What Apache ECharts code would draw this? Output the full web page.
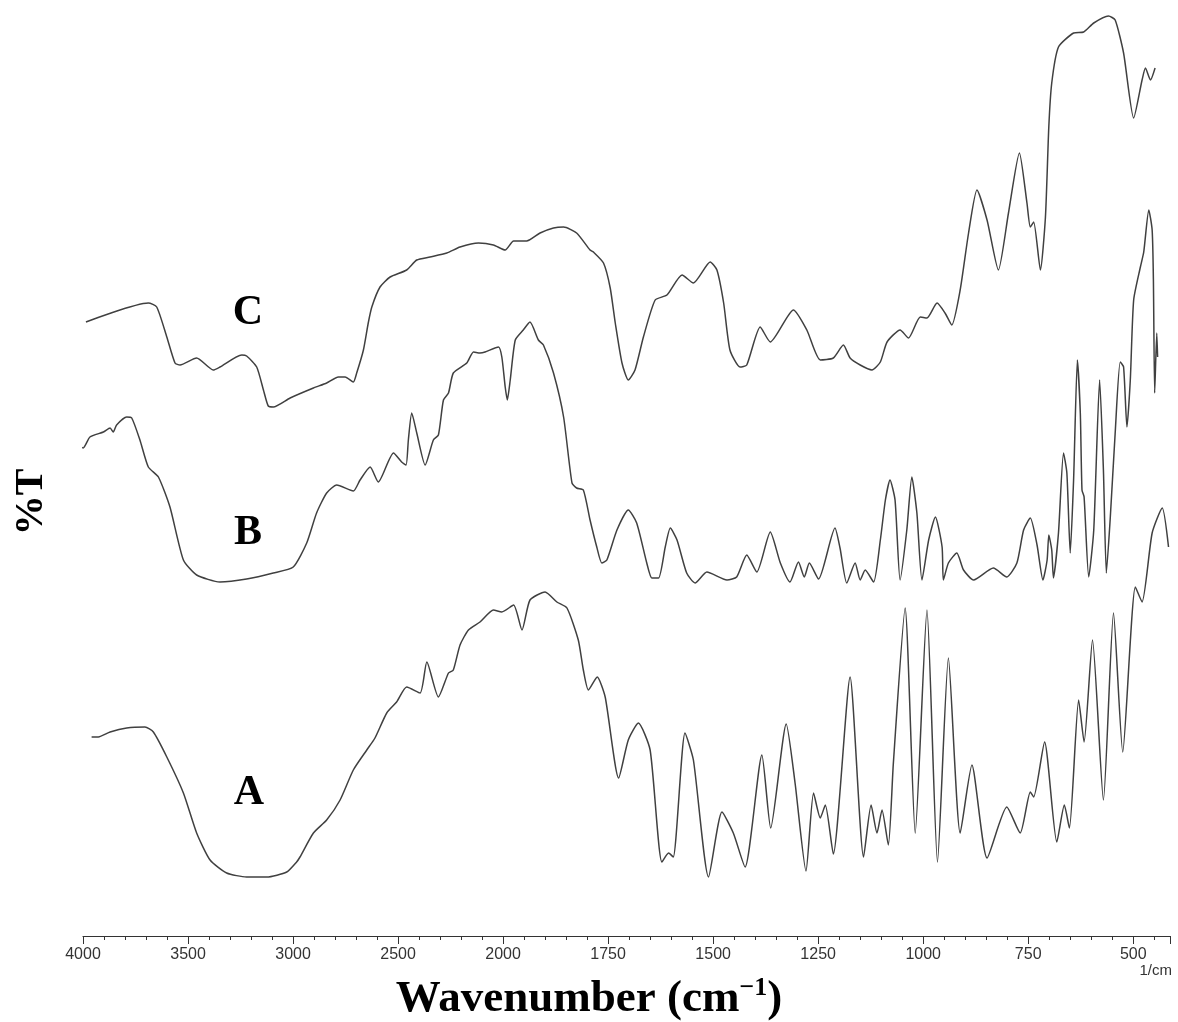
<!DOCTYPE html>
<html>
<head>
<meta charset="utf-8">
<script src="https://cdn.jsdelivr.net/npm/echarts@6/dist/echarts.min.js"></script>
<style>
  html, body { margin: 0; background: #fff; }
  #chart { width: 1178px; height: 1022px; }
</style>
</head>
<body>
<div id="chart"></div>
<script>
// FTIR spectra. x = wavenumber (cm-1), y = %T (arbitrary offset units)
const wnC = [3986, 3689, 3649, 3601, 3562, 3538, 3459, 3380, 3348, 3244, 3221, 3173, 3141, 3118, 3094, 3014, 2903, 2840, 2784,
  2752, 2713, 2697, 2665, 2642, 2625, 2586, 2538, 2459, 2411, 2348, 2268, 2205, 2117, 2046, 1995, 1975, 1944, 1912, 1880, 1856, 1825, 1793,
  1785, 1761, 1745, 1733, 1717, 1702, 1686, 1666, 1638, 1610, 1574, 1547, 1507, 1491, 1475, 1460, 1436, 1420, 1388, 1364, 1309, 1277, 1245,
  1214, 1190, 1174, 1150, 1122, 1102, 1086, 1055, 1035, 1007, 991, 967, 948, 932, 912, 892, 872, 848, 821, 797, 771, 753, 745, 737, 721,
  709, 701, 694, 678, 642, 618, 594, 559, 543, 523, 499, 479, 471, 459, 448]
const tC = [61.4, 63.3, 62.9, 59.9, 57.3, 57.1, 57.8, 56.6, 56.9, 58.1, 58.0, 56.9, 54.6, 53.0, 52.9, 53.8, 54.8, 55.3, 55.9,
  55.9, 55.4, 56.3, 58.6, 61.3, 62.9, 64.9, 65.9, 66.6, 67.6, 67.9, 68.3, 68.9, 69.3, 69.1, 68.6, 69.5, 69.5, 70.3, 70.8, 70.9, 70.3, 68.6,
  68.4, 67.3, 64.8, 61.3, 57.3, 55.6, 56.6, 59.9, 63.6, 64.1, 66.1, 65.3, 67.4, 66.6, 63.3, 58.6, 56.9, 57.1, 60.9, 59.4, 62.6, 60.6, 57.6,
  57.8, 59.1, 57.8, 57.1, 56.6, 57.4, 59.4, 60.6, 59.8, 61.9, 61.8, 63.3, 62.3, 61.1, 64.6, 70.3, 74.6, 71.6, 66.6, 72.3, 78.3, 73.3, 70.9, 71.4, 66.6,
  71.9, 80.9, 85.3, 88.9, 90.3, 90.4, 91.3, 92.0, 91.6, 88.3, 81.8, 85.6, 86.8, 85.6, 86.8]

const wnB = [4024, 3999, 3967, 3903, 3871, 3856, 3840, 3792, 3768, 3729, 3689, 3641, 3586, 3522, 3459, 3348, 3221, 3094, 2999, 2935,
  2888, 2840, 2792, 2713, 2681, 2633, 2594, 2522, 2483, 2462, 2451, 2435, 2411, 2371, 2332, 2308, 2284, 2260, 2237, 2173, 2141, 2110,
  2086, 2022, 2006, 1995, 1990, 1983, 1971, 1952, 1936, 1916, 1904, 1880, 1856, 1836, 1825, 1809, 1793, 1777, 1765, 1753, 1729, 1702,
  1682, 1658, 1646, 1630, 1614, 1602, 1586, 1563, 1543, 1515, 1467, 1444, 1420, 1396, 1364, 1340, 1317, 1297, 1283, 1271, 1249, 1210,
  1198, 1182, 1162, 1150, 1138, 1118, 1102, 1090, 1079, 1067, 1055, 1039, 1027, 1015, 1003, 987, 971, 955, 952, 940, 920, 904, 880,
  833, 801, 777, 761, 745, 729, 715, 705, 701, 694, 690, 678, 666, 658, 650, 642, 633, 626, 622, 617, 606, 594, 580, 571, 564, 555,
  543, 531, 523, 515, 507, 499, 483, 475, 463, 455, 452, 449, 444, 442]
const tB = [49.1, 48.8, 49.9, 50.4, 50.8, 50.4, 51.1, 51.9, 51.8, 49.6, 46.9, 45.9, 42.9, 37.6, 36.1, 35.4, 35.7, 36.3, 36.9, 39.3,
  42.3, 44.3, 45.1, 44.5, 45.6, 46.9, 45.4, 48.3, 47.4, 47.1, 49.6, 52.3, 50.3, 47.1, 49.6, 50.1, 53.6, 54.3, 56.3, 57.3, 58.4, 58.3,
  58.4, 58.9, 57.9, 54.9, 53.6, 55.6, 59.6, 60.6, 61.4, 59.6, 59.1, 56.3, 51.9, 45.3, 44.8, 44.6, 41.6, 38.9, 37.3, 37.6, 40.6, 42.6,
  41.3, 37.3, 35.8, 35.8, 38.9, 40.8, 39.6, 36.3, 35.3, 36.4, 35.6, 35.9, 38.1, 36.4, 40.4, 37.3, 35.4, 37.4, 35.9, 37.3, 35.7, 40.8,
  38.8, 35.3, 37.3, 35.6, 36.6, 35.4, 39.6, 43.6, 45.6, 43.6, 35.6, 40.6, 45.9, 42.3, 35.6, 39.6, 41.9, 38.9, 35.6, 37.3, 38.3, 36.6, 35.6,
  36.8, 35.9, 37.3, 40.6, 41.8, 39.1, 35.6, 37.6, 40.1, 38.6, 35.8, 40.3, 48.3, 46.3, 38.3, 45.6, 57.6, 52.3, 44.6, 43.9, 35.9, 40.6, 55.6, 46.6, 36.3, 41.6,
  50.3, 57.4, 56.9, 50.9, 55.6, 63.6, 66.9, 68.4, 72.6, 70.6, 65.6, 54.3, 60.3, 57.9]

const wnA = [3959, 3927, 3871, 3792, 3705, 3665, 3601, 3522, 3459, 3395, 3316, 3221, 3125, 3030, 2983, 2967, 2903, 2840, 2776,
  2713, 2649, 2610, 2554, 2507, 2459, 2395, 2363, 2308, 2260, 2237, 2205, 2165, 2110, 2046, 2006, 1975, 1955, 1936, 1900, 1872,
  1848, 1821, 1809, 1797, 1776, 1757, 1725, 1702, 1678, 1650, 1622, 1606, 1595, 1567, 1547, 1511, 1479, 1452, 1424, 1384, 1363,
  1326, 1305, 1279, 1261, 1245, 1233, 1214, 1174, 1142, 1124, 1110, 1098, 1083, 1071, 1043, 1019, 991, 966, 940, 912, 884, 848,
  801, 769, 745, 737, 711, 682, 664, 652, 630, 617, 597, 571, 547, 525, 495, 479, 455, 431, 416]
const tA = [19.9, 19.9, 20.4, 20.8, 20.9, 20.4, 17.9, 14.3, 10.3, 7.6, 6.3, 5.9, 5.9, 6.4, 7.4, 7.9, 10.3, 11.6, 13.6,
  16.6, 18.6, 19.8, 22.3, 23.4, 24.9, 24.3, 27.4, 23.9, 26.3, 26.6, 29.1, 30.6, 31.4, 32.6, 32.4, 33.1, 30.6, 33.6, 34.4, 33.4,
  32.8, 29.6, 26.6, 24.6, 25.9, 23.9, 15.8, 19.6, 21.3, 18.6, 7.4, 8.3, 7.9, 20.3, 17.6, 5.9, 12.4, 10.3, 6.9, 18.1, 10.8,
  21.2, 15.3, 6.5, 14.3, 11.8, 13.1, 8.2, 25.9, 7.9, 13.1, 10.3, 12.6, 9.1, 17.3, 32.8, 10.3, 32.6, 7.4, 27.8, 10.3, 17.1, 7.8,
  12.9, 10.3, 14.4, 13.9, 19.4, 9.4, 13.1, 10.8, 23.6, 19.4, 29.6, 13.6, 32.3, 18.4, 34.9, 33.4, 40.3, 42.8, 38.9]

// the instrument axis is expanded 2x below 2000 cm-1: one axis step = 500 above, 250 below
const toPos = (w) => (w >= 2000 ? (4000 - w) / 500 : 4 + (2000 - w) / 250)
const toWn = (u) => (u <= 4 ? 4000 - 500 * u : 2000 - 250 * (u - 4))
const pts = (wn, t) => wn.map((w, i) => [toPos(w), t[i]])

const LINE = '#404040'
const serif = '"Liberation Serif", "Times New Roman", serif'
const curve = (name, data) => ({
  name, type: 'line', data, showSymbol: false, clip: false, smooth: 0.2,
  lineStyle: { color: LINE, width: 1.5 }, animation: false,
})

const chart = echarts.init(document.getElementById('chart'), null, { renderer: 'canvas' })
chart.setOption({
  backgroundColor: '#fff',
  animation: false,
  grid: { left: 83, right: 8, top: 6, bottom: 86 },
  title: {
    text: '{a|Wavenumber (cm}{s|−1}{a|)}',
    left: 'center', top: 970,
    textStyle: {
      rich: {
        a: { fontFamily: serif, fontWeight: 'bold', fontSize: 45, color: '#000', lineHeight: 48 },
        s: { fontFamily: serif, fontWeight: 'bold', fontSize: 26, color: '#000', verticalAlign: 'top', lineHeight: 48 },
      },
    },
  },
  xAxis: {
    type: 'value', min: 0, max: 10.35, interval: 1,
    axisLine: { lineStyle: { color: '#333', width: 1.2 } },
    axisTick: { show: true, length: 8, lineStyle: { color: '#333' } },
    minorTick: { show: true, splitNumber: 5, length: 4, lineStyle: { color: '#333' } },
    splitLine: { show: false },
    axisLabel: {
      color: '#333', fontFamily: '"Liberation Sans", Arial, sans-serif', fontSize: 16, margin: 11,
      formatter: (u) => (Math.abs(u - Math.round(u)) < 1e-6 ? String(toWn(Math.round(u))) : ''),
    },
  },
  yAxis: {
    type: 'value', min: 0, max: 93,
    axisLine: { show: false }, axisTick: { show: false }, axisLabel: { show: false }, splitLine: { show: false },
  },
  graphic: [
    { type: 'text', right: 6, top: 963, style: { text: '1/cm', font: '15px "Liberation Sans", Arial', fill: '#333' } },
    { type: 'text', x: 32, y: 502, rotation: Math.PI / 2,
      style: { text: '%T', font: 'bold 40px ' + serif, fill: '#000', align: 'center', verticalAlign: 'middle' } },
    { type: 'text', x: 248, y: 313, style: { text: 'C', font: 'bold 42px ' + serif, fill: '#000', align: 'center', verticalAlign: 'middle' } },
    { type: 'text', x: 248, y: 533, style: { text: 'B', font: 'bold 42px ' + serif, fill: '#000', align: 'center', verticalAlign: 'middle' } },
    { type: 'text', x: 249, y: 793, style: { text: 'A', font: 'bold 42px ' + serif, fill: '#000', align: 'center', verticalAlign: 'middle' } },
  ],
  series: [curve('A', pts(wnA, tA)), curve('B', pts(wnB, tB)), curve('C', pts(wnC, tC))],
})
</script>
</body>
</html>
